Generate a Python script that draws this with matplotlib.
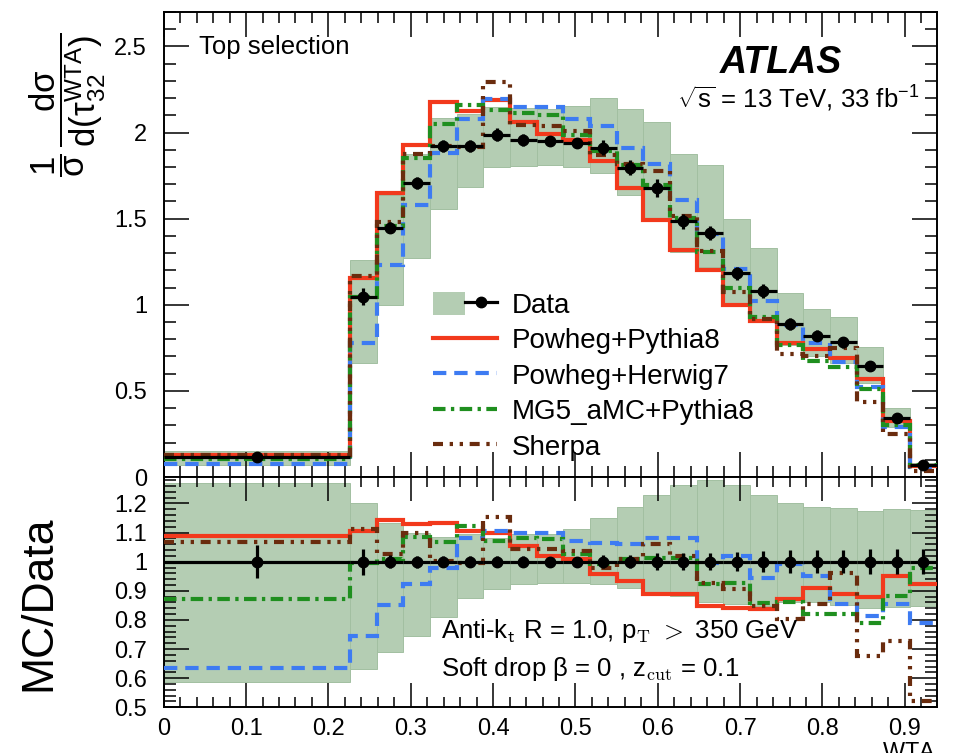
import numpy as np
import matplotlib
matplotlib.use("Agg")
import matplotlib.pyplot as plt
from matplotlib.lines import Line2D
from matplotlib.patches import Patch
from matplotlib.ticker import MultipleLocator, FuncFormatter
from matplotlib.legend_handler import HandlerTuple

plt.rcParams['font.family'] = ['Liberation Sans', 'DejaVu Sans']
plt.rcParams['mathtext.fontset'] = 'custom'
plt.rcParams['mathtext.rm'] = 'Liberation Sans'
plt.rcParams['mathtext.it'] = 'Liberation Sans:italic'
plt.rcParams['mathtext.bf'] = 'Liberation Sans:bold'

# tau32 (WTA) bin edges
edges = [0.0, 0.2263, 0.2587, 0.2911, 0.3234, 0.3558, 0.3882, 0.4206, 0.4530,
         0.4853, 0.5177, 0.5501, 0.5825, 0.6149, 0.6472, 0.6796, 0.7120, 0.7444,
         0.7768, 0.8091, 0.8415, 0.8739, 0.9063, 0.9387]

# unfolded data, normalised cross-section
data = [0.118, 1.048, 1.446, 1.707, 1.920, 1.924, 1.988, 1.955, 1.953, 1.940,
        1.911, 1.797, 1.678, 1.484, 1.417, 1.184, 1.081, 0.888, 0.820, 0.781,
        0.645, 0.341, 0.070]
# relative statistical uncertainty of data
data_stat = [0.057, 0.045, 0.022, 0.02, 0.018, 0.018, 0.018, 0.018, 0.015, 0.015,
             0.023, 0.023, 0.03, 0.03, 0.03, 0.032, 0.037, 0.04, 0.04, 0.04,
             0.042, 0.043, 0.042]
# total uncertainty band, relative to data (upper / lower edge)
band_up = [1.269, 1.200, 1.132, 1.100, 1.086, 1.095, 1.080, 1.095, 1.095, 1.111,
           1.151, 1.188, 1.229, 1.265, 1.280, 1.265, 1.230, 1.200, 1.188, 1.186,
           1.174, 1.180, 1.177]
band_dn = [0.588, 0.632, 0.690, 0.745, 0.810, 0.875, 0.905, 0.925, 0.928, 0.928,
           0.925, 0.911, 0.885, 0.882, 0.860, 0.855, 0.848, 0.860, 0.860, 0.850,
           0.842, 0.845, 0.848]

# MC / Data ratios
ratio_pwg_py8 = [1.088, 1.105, 1.142, 1.128, 1.134, 1.105, 1.100, 1.054, 1.020,
                 1.010, 0.959, 0.934, 0.888, 0.890, 0.848, 0.842, 0.837, 0.873,
                 0.909, 0.888, 0.879, 0.951, 0.922]
ratio_pwg_h7 = [0.636, 0.745, 0.850, 0.924, 0.980, 1.080, 1.105, 1.100, 1.100,
                1.071, 1.065, 1.062, 1.082, 1.082, 0.997, 1.020, 0.945, 0.991,
                0.951, 0.854, 0.814, 0.854, 0.790]
ratio_mg5_py8 = [0.873, 0.997, 1.008, 1.085, 1.069, 1.122, 1.071, 1.082, 1.077,
                 1.025, 0.991, 1.008, 1.012, 1.012, 0.922, 0.928, 0.859, 0.863,
                 0.821, 0.819, 0.790, 0.882, 0.979]
ratio_sherpa = [1.069, 1.111, 1.025, 1.100, 1.002, 0.997, 1.154, 1.045, 1.045,
                1.037, 0.979, 1.010, 1.060, 1.020, 0.928, 0.905, 0.848, 0.802,
                0.854, 0.962, 0.676, 0.728, 0.523]

labels = ['Data', 'Powheg+Pythia8', 'Powheg+Herwig7', 'MG5_aMC+Pythia8', 'Sherpa']

edges_a = np.array(edges)
centers = 0.5 * (edges_a[1:] + edges_a[:-1])
halfw = 0.5 * (edges_a[1:] - edges_a[:-1])
data_a = np.array(data)
stat_a = np.array(data_stat)
up_a = np.array(band_up)
dn_a = np.array(band_dn)

band_col = '#b4cdb3'
band_edge = '#a2bfa1'
styles = [
    (ratio_pwg_py8, '#f2391c', '-'),
    (ratio_pwg_h7, '#3d7bf2', (0, (3.2, 1.9))),
    (ratio_mg5_py8, '#1f8f1f', (0, (3.0, 1.3, 0.8, 1.3))),
    (ratio_sherpa, '#6a2c0e', (0, (2.4, 1.6, 0.8, 1.6, 0.8, 1.6))),
]
LW = 3.0

fig = plt.figure(figsize=(9.6, 7.53), dpi=100)
W, H = 960.0, 753.0
x0, x1 = 163.7, 936.7
ax = fig.add_axes([x0 / W, 1 - 477 / H, (x1 - x0) / W, (477 - 12) / H])
rax = fig.add_axes([x0 / W, 1 - 707.3 / H, (x1 - x0) / W, (707.3 - 477) / H], sharex=ax)

# ---- upper panel ----
ax.bar(edges_a[:-1], data_a * (up_a - dn_a), bottom=data_a * dn_a, width=2 * halfw,
       align='edge', color=band_col, edgecolor=band_edge, linewidth=0.7, zorder=1)
for r, c, ls in styles:
    ax.stairs(data_a * np.array(r), edges_a, baseline=None, color=c, linestyle=ls,
              linewidth=LW, zorder=3)
ax.errorbar(centers, data_a, yerr=data_a * stat_a, xerr=halfw, fmt='o', color='k',
            ms=7.5, elinewidth=2.3, capsize=0, zorder=5)

ax.set_xlim(edges_a[0], edges_a[-1])
ax.set_ylim(0, 2.70)
ax.yaxis.set_major_locator(MultipleLocator(0.5))
ax.yaxis.set_minor_locator(MultipleLocator(0.1))
ax.xaxis.set_major_locator(MultipleLocator(0.1))
ax.xaxis.set_minor_locator(MultipleLocator(0.02))
fmt = FuncFormatter(lambda v, p: '%g' % round(v, 3))
ax.yaxis.set_major_formatter(fmt)
ax.tick_params(axis='x', labelbottom=False)
ax.tick_params(which='both', direction='in', top=True, right=True, width=1.1,
               labelsize=17, pad=12)
ax.tick_params(axis='y', which='major', length=18)
ax.tick_params(axis='y', which='minor', length=8.5)
ax.tick_params(axis='x', which='major', length=18)
ax.tick_params(axis='x', which='minor', length=8)
for s in ax.spines.values():
    s.set_linewidth(1.4)

ax.set_ylabel(r'$\dfrac{1}{\mathrm{σ}}\,\dfrac{\mathrm{dσ}}{\mathrm{d(τ}_{32}^{\mathrm{WTA}}\mathrm{)}}$',
              fontsize=25)
ax.yaxis.set_label_coords(-0.072, 0.80)

ax.text(0.046, 0.925, 'Top selection', transform=ax.transAxes, fontsize=18.5,
        ha='left', va='center')
ax.text(0.877, 0.89, 'ATLAS', transform=ax.transAxes, fontsize=27,
        fontweight='bold', fontstyle='italic', ha='right', va='center')
ax.text(0.978, 0.812, r'$\sqrt{\mathrm{s}}$ = 13 TeV, 33 fb$^{-1}$',
        transform=ax.transAxes, fontsize=18.5, ha='right', va='center')

# legend
data_handle = (Patch(facecolor=band_col, edgecolor='none'),
               Line2D([], [], color='k', marker='o', ms=7.5, lw=2.3))
handles = [data_handle] + [Line2D([], [], color=c, linestyle=ls, lw=LW)
                           for _, c, ls in styles]
ax.legend(handles, labels, handler_map={tuple: HandlerTuple(ndivide=None)},
          loc='upper left', bbox_to_anchor=(0.348, 0.398), frameon=False,
          fontsize=20, handlelength=2.3, handletextpad=0.54, labelspacing=0.3,
          borderpad=0.0, borderaxespad=0.0, handleheight=0.9)

# ---- ratio panel ----
rax.bar(edges_a[:-1], up_a - dn_a, bottom=dn_a, width=2 * halfw, align='edge',
        color=band_col, edgecolor=band_edge, linewidth=0.7, zorder=1)
for r, c, ls in styles:
    rax.stairs(r, edges_a, baseline=None, color=c, linestyle=ls, linewidth=LW,
               zorder=3)
rax.errorbar(centers, np.ones_like(centers), yerr=stat_a, xerr=halfw, fmt='o',
             color='k', ms=7.5, elinewidth=2.3, capsize=0, zorder=5)

rax.set_ylim(0.5, 1.291)
rax.yaxis.set_major_locator(MultipleLocator(0.1))
rax.yaxis.set_minor_locator(MultipleLocator(0.02))
rax.yaxis.set_major_formatter(fmt)
rax.xaxis.set_major_formatter(fmt)
rax.tick_params(which='both', direction='in', top=True, right=True, width=1.1,
                labelsize=17)
rax.tick_params(axis='y', which='major', length=18, pad=12)
rax.tick_params(axis='y', which='minor', length=8.5)
rax.tick_params(axis='x', which='major', length=17, pad=8)
rax.tick_params(axis='x', which='minor', length=7)
for s in rax.spines.values():
    s.set_linewidth(1.4)
rax.set_ylabel('MC/Data', fontsize=32)
rax.yaxis.set_label_coords(-0.135, 0.45)

rax.text(0.359, 0.33, r'Anti-k$_\mathsf{t}$ R = 1.0, p$_\mathrm{T}$ $>$ 350 GeV',
         transform=rax.transAxes, fontsize=18.5, ha='left', va='center',
         math_fontfamily='cm')
rax.text(0.359, 0.165, r'Soft drop β = 0 , z$_\mathrm{cut}$ = 0.1',
         transform=rax.transAxes, fontsize=18.5, ha='left', va='center',
         math_fontfamily='cm')

# x-axis title sits below the tick labels at the lower right
fig.text(0.975, -0.012, r'$\mathrm{τ}_{32}^{\mathrm{WTA}}$', fontsize=24, ha='right',
         va='center')

fig.savefig('out.png', dpi=100)
